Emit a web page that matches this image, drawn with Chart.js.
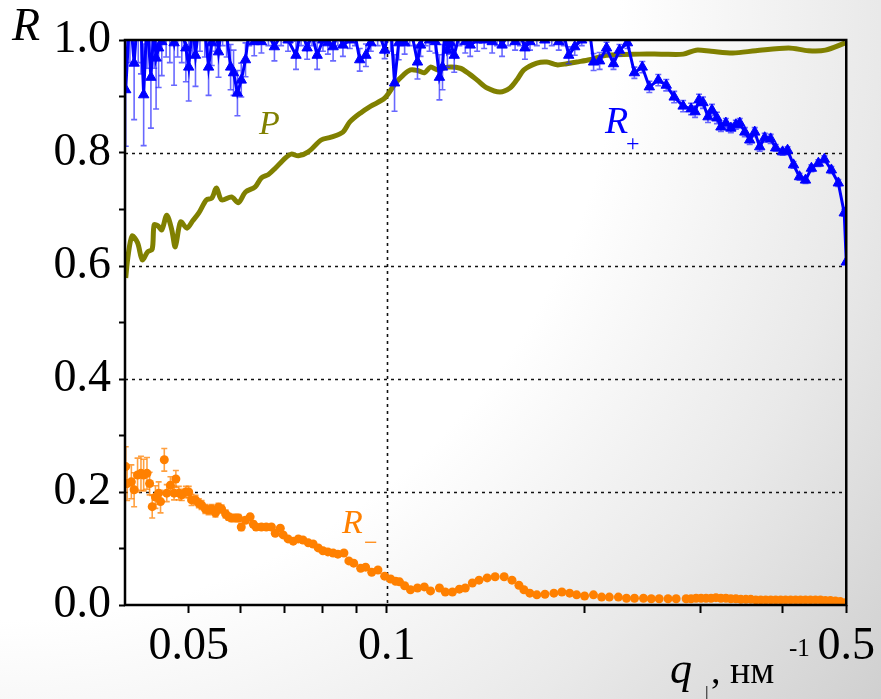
<!DOCTYPE html>
<html>
<head>
<meta charset="utf-8">
<title>R+, R-, P vs q</title>
<script src="https://cdn.jsdelivr.net/npm/chart.js@4.4.1/dist/chart.umd.min.js"></script>
<style>
  html, body { margin: 0; padding: 0; }
  body {
    width: 881px; height: 699px; overflow: hidden;
    background: radial-gradient(circle at 0 0, #ffffff 0px, #ffffff 620px, #e9e9e9 880px, #cfcfcf 1130px);
  }
  #wrap { position: relative; width: 881px; height: 699px; }
</style>
</head>
<body>
<div id="wrap"><canvas id="reflChart" width="881" height="699"></canvas></div>
<script>
// R+ : q (nm^-1), reflectivity, error
const qPlus = [0.0399,0.0401,0.0407,0.0413,0.0419,0.0423,0.0427,0.0432,0.0438,0.0443,
  0.0446,0.0450,0.0455,0.0462,0.0468,0.0475,0.0481,0.0488,0.0495,0.0500,
  0.0507,0.0512,0.0520,0.0529,0.0536,0.0542,0.0549,0.0555,0.0563,0.0571,
  0.0579,0.0585,0.0593,0.0601,0.0610,0.0618,0.0629,0.0645,0.0661,0.0675,
  0.0691,0.0708,0.0728,0.0741,0.0757,0.0770,0.0784,0.0800,0.0814,0.0829,
  0.0843,0.0858,0.0879,0.0895,0.0910,0.0930,0.0946,0.0969,0.0993,0.1014,
  0.1028,0.1043,0.1065,0.1084,0.1114,0.1126,0.1146,0.1162,0.1186,0.1203,
  0.1216,0.1228,0.1237,0.1250,0.1267,0.1290,0.1317,0.1340,0.1373,0.1407,
  0.1447,0.1472,0.1498,0.1530,0.1568,0.1595,0.1623,0.1652,0.1692,0.1740,
  0.1783,0.1827,0.1859,0.1892,0.1932,0.1980,0.2028,0.2064,0.2108,0.2160,
  0.2213,0.2260,0.2324,0.2381,0.2448,0.2509,0.2589,0.2662,0.2737,0.2824,
  0.2904,0.2945,0.2986,0.3028,0.3081,0.3124,0.3179,0.3224,0.3280,0.3338,
  0.3397,0.3444,0.3505,0.3566,0.3629,0.3693,0.3758,0.3837,0.3905,0.4001,
  0.4071,0.4157,0.4245,0.4335,0.4426,0.4535,0.4631,0.4746,0.4863,0.4965,
  0.5000];
const rPlus = [1.06,0.912,1.05,0.959,1.06,1.02,0.903,1.04,0.934,1.03,
  0.968,0.986,0.997,1.05,1.03,0.995,1.04,1.02,0.986,0.952,
  1.03,0.973,1.04,1.02,0.952,0.995,1.03,0.979,1.04,1.01,
  0.952,0.942,0.906,0.929,0.965,1.02,0.997,0.997,1.01,0.988,
  1.01,1.0,0.973,1.02,0.986,1.01,0.973,1.0,0.995,0.988,
  1.01,0.991,1.0,1.01,0.965,0.973,0.995,1.02,0.982,1.03,
  0.924,0.995,0.995,1.03,0.961,0.991,1.02,1.0,0.997,0.934,
  0.952,1.03,0.982,0.995,0.973,1.01,0.997,0.991,1.0,1.0,
  0.997,1.01,0.991,1.01,0.997,1.01,0.986,0.997,1.01,1.0,
  1.01,0.997,1.01,0.973,0.988,1.0,1.03,0.961,0.963,0.986,
  0.958,0.982,0.995,0.942,0.952,0.917,0.929,0.920,0.899,0.883,
  0.878,0.873,0.894,0.889,0.864,0.876,0.862,0.846,0.853,0.844,
  0.850,0.853,0.837,0.823,0.837,0.811,0.827,0.825,0.809,0.802,
  0.805,0.779,0.758,0.752,0.773,0.782,0.789,0.770,0.747,0.694,
  0.607];
const errPlus = [0.10,0.10,0.09,0.10,0.10,0.08,0.09,0.09,0.09,0.08,
  0.09,0.07,0.06,0.08,0.07,0.075,0.07,0.06,0.06,0.06,
  0.06,0.055,0.06,0.05,0.05,0.04,0.05,0.045,0.05,0.04,
  0.04,0.04,0.04,0.03,0.03,0.03,0.025,0.02,0.02,0.025,
  0.02,0.02,0.025,0.03,0.02,0.02,0.025,0.02,0.02,0.025,
  0.02,0.02,0.015,0.02,0.02,0.02,0.015,0.03,0.015,0.05,
  0.05,0.03,0.02,0.04,0.03,0.02,0.03,0.02,0.02,0.04,
  0.04,0.04,0.03,0.02,0.03,0.02,0.02,0.02,0.02,0.015,
  0.02,0.02,0.02,0.02,0.015,0.02,0.02,0.015,0.02,0.015,
  0.02,0.015,0.02,0.015,0.015,0.01,0.02,0.015,0.015,0.01,
  0.01,0.01,0.01,0.01,0.01,0.01,0.01,0.01,0.01,0.01,
  0.01,0.01,0.01,0.01,0.01,0.01,0.01,0.008,0.008,0.008,
  0.008,0.008,0.008,0.008,0.008,0.008,0.008,0.008,0.006,0.006,
  0.006,0.006,0.006,0.006,0.006,0.006,0.006,0.006,0.006,0.006,
  0];

// R- : q, reflectivity, error (errors only for the first points)
const qMinus = [0.0401,0.0403,0.0409,0.0413,0.0418,0.0423,0.0427,0.0432,0.0436,0.0440,
  0.0445,0.0450,0.0453,0.0459,0.0463,0.0469,0.0475,0.0478,0.0483,0.0488,
  0.0495,0.0500,0.0505,0.0512,0.0518,0.0523,0.0530,0.0536,0.0542,0.0549,
  0.0555,0.0561,0.0569,0.0575,0.0581,0.0589,0.0595,0.0601,0.0610,0.0620,
  0.0627,0.0633,0.0645,0.0656,0.0668,0.0677,0.0689,0.0696,0.0708,0.0721,
  0.0734,0.0746,0.0760,0.0773,0.0787,0.0800,0.0814,0.0829,0.0843,0.0861,
  0.0876,0.0891,0.0913,0.0929,0.0949,0.0970,0.0993,0.1014,0.1032,0.1046,
  0.1065,0.1087,0.1114,0.1141,0.1166,0.1203,0.1228,0.1259,0.1290,0.1317,
  0.1350,0.1382,0.1422,0.1462,0.1509,0.1551,0.1589,0.1617,0.1651,0.1692,
  0.1741,0.1796,0.1847,0.1898,0.1945,0.2000,0.2063,0.2123,0.2181,0.2251,
  0.2316,0.2382,0.2458,0.2526,0.2597,0.2679,0.2756,0.2854,0.2904,0.2955,
  0.3007,0.3060,0.3114,0.3168,0.3224,0.3281,0.3338,0.3397,0.3457,0.3518,
  0.3579,0.3642,0.3706,0.3771,0.3838,0.3905,0.3974,0.4043,0.4115,0.4187,
  0.4260,0.4335,0.4411,0.4489,0.4568,0.4648,0.4730,0.4813,0.4897,0.4983];
const rMinus = [0.245,0.215,0.218,0.204,0.230,0.233,0.230,0.233,0.215,0.174,
  0.191,0.198,0.183,0.257,0.198,0.212,0.198,0.223,0.198,0.195,
  0.200,0.200,0.186,0.186,0.180,0.177,0.170,0.168,0.170,0.163,
  0.173,0.170,0.161,0.156,0.154,0.154,0.154,0.138,0.150,0.156,
  0.143,0.138,0.138,0.138,0.138,0.127,0.136,0.124,0.117,0.113,
  0.117,0.115,0.110,0.108,0.101,0.096,0.094,0.092,0.090,0.092,
  0.078,0.074,0.065,0.067,0.058,0.062,0.051,0.046,0.042,0.041,
  0.034,0.027,0.030,0.032,0.025,0.030,0.023,0.023,0.028,0.030,
  0.039,0.044,0.048,0.050,0.050,0.044,0.035,0.027,0.021,0.018,
  0.019,0.021,0.023,0.021,0.018,0.016,0.018,0.014,0.014,0.014,
  0.012,0.012,0.012,0.011,0.011,0.011,0.011,0.011,0.011,0.012,
  0.012,0.012,0.012,0.013,0.012,0.012,0.011,0.011,0.010,0.010,
  0.010,0.009,0.009,0.009,0.009,0.009,0.009,0.009,0.009,0.009,
  0.009,0.009,0.009,0.009,0.009,0.008,0.008,0.007,0.006,0.004];
const errMinus = [0.035,0.03,0.03,0.03,0.03,0.03,0.028,0.028,0.02,0.02,
  0.02,0.02,0.02,0.02,0.015,0.015,0.012,0.015,0.012,0.01,
  0.01,0.01,0.01,0.008,0.008,0.008,0.008,0.008,0.008,0.007,
  0.007,0.007,0.007,0.006,0.006,0.006,0.006,0.006,0.005,0.005,
  0.005,0.005,0.005,0.004,0.004,0.004,0.004,0.004];

// P : polarisation efficiency
const qP = [0.0401,0.0404,0.0410,0.0418,0.0425,0.0433,0.0440,0.0443,0.0449,0.0455,
  0.0463,0.0471,0.0477,0.0486,0.0497,0.0507,0.0518,0.0532,0.0542,0.0551,
  0.0561,0.0581,0.0595,0.0610,0.0631,0.0645,0.0661,0.0677,0.0701,0.0716,
  0.0734,0.0760,0.0795,0.0823,0.0858,0.0879,0.0913,0.0946,0.0993,0.1032,
  0.1060,0.1087,0.1114,0.1141,0.1166,0.1195,0.1237,0.1294,0.1335,0.1373,
  0.1422,0.1487,0.1540,0.1579,0.1617,0.1692,0.1752,0.1815,0.1879,0.1945,
  0.2035,0.2160,0.2423,0.2616,0.2825,0.2955,0.3114,0.3361,0.3642,0.4086,
  0.4380,0.4648,0.4983];
const valP = [0.579,0.615,0.653,0.641,0.611,0.625,0.630,0.673,0.671,0.664,
  0.690,0.665,0.634,0.678,0.667,0.680,0.694,0.717,0.720,0.738,
  0.717,0.722,0.712,0.731,0.740,0.756,0.762,0.773,0.791,0.798,
  0.795,0.802,0.823,0.828,0.837,0.855,0.871,0.883,0.897,0.924,
  0.938,0.947,0.946,0.942,0.952,0.947,0.952,0.950,0.940,0.929,
  0.915,0.908,0.915,0.930,0.947,0.959,0.961,0.956,0.958,0.961,
  0.965,0.973,0.975,0.975,0.975,0.982,0.980,0.977,0.981,0.986,
  0.981,0.982,0.995];

const xTickValues = [0.05, 0.06, 0.07, 0.08, 0.09, 0.1, 0.2, 0.3, 0.4, 0.5];
const xTickLabels = ['0.05', '', '', '', '', '0.1', '', '', '', '0.5'];
const yTickValues = [0, 0.1, 0.2, 0.3, 0.4, 0.5, 0.6, 0.7, 0.8, 0.9, 1.0];
const yTickLabels = ['0.0', '', '0.2', '', '0.4', '', '0.6', '', '0.8', '', '1.0'];
const xGrid = [0.1];
const yGrid = [0.2, 0.4, 0.6, 0.8];

const SERIF = '"Liberation Serif", "Times New Roman", serif';
const toPoints = (xs, ys) => xs.map((x, i) => ({ x: x, y: ys[i] }));

// dotted grid, error bars, frame and the hand-placed labels
const decor = {
  id: 'decor',
  beforeDatasetsDraw(chart) {
    const { ctx, chartArea: a, scales: { x, y } } = chart;
    ctx.save();
    ctx.strokeStyle = '#111';
    ctx.lineWidth = 1.6;
    ctx.setLineDash([3, 4]);
    yGrid.forEach(v => {
      const py = Math.round(y.getPixelForValue(v)) + 0.5;
      ctx.beginPath(); ctx.moveTo(a.left, py); ctx.lineTo(a.right, py); ctx.stroke();
    });
    xGrid.forEach(v => {
      const px = Math.round(x.getPixelForValue(v)) + 0.5;
      ctx.beginPath(); ctx.moveTo(px, a.top); ctx.lineTo(px, a.bottom); ctx.stroke();
    });
    ctx.restore();
  },
  beforeDatasetDraw(chart, args) {
    const ds = chart.data.datasets[args.index];
    if (!ds.errors) return;
    const { ctx, chartArea: a, scales: { x, y } } = chart;
    ctx.save();
    ctx.beginPath();
    ctx.rect(a.left, a.top, a.right - a.left, a.bottom - a.top);
    ctx.clip();
    ctx.strokeStyle = ds.errColor;
    ctx.lineWidth = 1.6;
    ds.data.forEach((p, i) => {
      const e = ds.errors[i];
      if (!e) return;
      const px = x.getPixelForValue(p.x);
      const y1 = y.getPixelForValue(p.y - e);
      const y2 = y.getPixelForValue(p.y + e);
      ctx.beginPath();
      ctx.moveTo(px, y1); ctx.lineTo(px, y2);
      ctx.moveTo(px - 3, y1); ctx.lineTo(px + 3, y1);
      ctx.moveTo(px - 3, y2); ctx.lineTo(px + 3, y2);
      ctx.stroke();
    });
    ctx.restore();
  },
  afterDraw(chart) {
    const { ctx, chartArea: a } = chart;
    ctx.save();
    ctx.strokeStyle = '#000';
    ctx.lineWidth = 2.5;
    ctx.strokeRect(a.left, a.top, a.right - a.left, a.bottom - a.top);

    const txt = (s, px, py, font, color) => {
      ctx.font = font;
      ctx.fillStyle = color;
      ctx.textBaseline = 'alphabetic';
      ctx.textAlign = 'left';
      ctx.fillText(s, px, py);
    };
    // axis titles
    txt('R', 12, 40, 'italic 46px ' + SERIF, '#000');
    txt('q', 670, 683, 'italic 44px ' + SERIF, '#000');
    txt('|', 705, 699, '18px ' + SERIF, '#000');
    txt(', нм', 711, 683, '38px ' + SERIF, '#000');
    txt('-1', 789, 656, '25px ' + SERIF, '#000');
    // series names
    txt('P', 259, 134, 'italic 34px ' + SERIF, '#808000');
    txt('R', 605, 133, 'italic 38px ' + SERIF, '#0000ff');
    txt('+', 626, 151, '24px ' + SERIF, '#0000ff');
    txt('R', 342, 533, 'italic 34px ' + SERIF, '#ff8000');
    txt('\u2212', 364, 550, '24px ' + SERIF, '#ff8000');
    ctx.restore();
  }
};

const ctx = document.getElementById('reflChart').getContext('2d');

new Chart(ctx, {
  type: 'line',
  data: {
    datasets: [
      {
        label: 'R+',
        data: toPoints(qPlus, rPlus),
        errors: errPlus,
        errColor: 'rgba(40, 40, 255, 0.7)',
        borderColor: '#0000ff',
        backgroundColor: '#0000ff',
        borderWidth: 3,
        pointStyle: 'triangle',
        pointRadius: 6,
        pointBorderWidth: 1,
        tension: 0,
        clip: 0
      },
      {
        label: 'P',
        data: toPoints(qP, valP),
        borderColor: '#808000',
        borderWidth: 5,
        pointRadius: 0,
        tension: 0.3,
        clip: 0
      },
      {
        label: 'R-',
        data: toPoints(qMinus, rMinus),
        errors: errMinus,
        errColor: 'rgba(255, 128, 0, 0.75)',
        showLine: false,
        pointStyle: 'circle',
        pointRadius: 4.5,
        pointBorderWidth: 0,
        backgroundColor: '#ff8000',
        borderColor: '#ff8000',
        clip: 0
      }
    ]
  },
  options: {
    responsive: false,
    animation: false,
    layout: { padding: { top: 40, right: 30, left: 0, bottom: 0 } },
    plugins: {
      legend: { display: false },
      tooltip: { enabled: false }
    },
    scales: {
      x: {
        type: 'logarithmic',
        min: 0.04,
        max: 0.5,
        afterBuildTicks: s => { s.ticks = xTickValues.map(v => ({ value: v })); },
        afterFit: s => { s.height = 94; },
        border: { display: false },
        grid: { drawOnChartArea: false, drawTicks: true, tickLength: 8, tickWidth: 2, tickColor: '#000' },
        ticks: {
          autoSkip: false,
          maxRotation: 0,
          padding: 6,
          color: '#000',
          font: { family: SERIF, size: 46 },
          callback: (v, i) => xTickLabels[i]
        }
      },
      y: {
        min: 0,
        max: 1,
        afterBuildTicks: s => { s.ticks = yTickValues.map(v => ({ value: v })); },
        afterFit: s => { s.width = 125; },
        border: { display: false },
        grid: { drawOnChartArea: false, drawTicks: true, tickLength: 6, tickWidth: 2, tickColor: '#000' },
        ticks: {
          autoSkip: false,
          padding: 8,
          color: '#000',
          font: { family: SERIF, size: 46 },
          callback: (v, i) => yTickLabels[i]
        }
      }
    }
  },
  plugins: [decor]
});
</script>
</body>
</html>
